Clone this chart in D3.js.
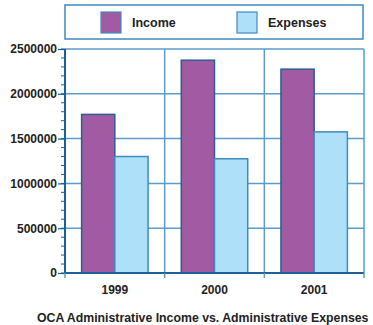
<!DOCTYPE html>
<html>
<head>
<meta charset="utf-8">
<script src="https://cdn.jsdelivr.net/npm/d3@7"></script>
<style>
  body { margin: 0; background: #fff; }
  text { font-family: "Liberation Sans", Arial, sans-serif; font-weight: bold; fill: #222; }
</style>
</head>
<body>
<div id="chart"></div>
<script>
// chart data
const years = ["1999", "2000", "2001"];
const seriesNames = ["Income", "Expenses"];
const income = [1770000, 2375000, 2275000];
const expenses = [1300000, 1275000, 1575000];
const yTicks = [0, 500000, 1000000, 1500000, 2000000, 2500000];
const titleText = "OCA Administrative Income vs. Administrative Expenses";

const colors = { Income: "#a25ba2", Expenses: "#aee1f9" };
const axisColor = "#1d5f97";
const gridColor = "#5a9ccb";

const W = 373, H = 325;
const margin = { top: 49, right: 9, bottom: 52, left: 65 };
const width = W - margin.left - margin.right,
    height = H - margin.top - margin.bottom;

const svg = d3.select("#chart").append("svg")
    .attr("width", W)
    .attr("height", H);

const g = svg.append("g")
    .attr("transform", "translate(" + margin.left + "," + margin.top + ")");

// scales
const x0 = d3.scaleBand().domain(years).range([0, width]).paddingInner(0).paddingOuter(0);
const x1 = d3.scaleBand().domain(seriesNames).range([0, x0.bandwidth()]).paddingInner(0).paddingOuter(0.5);
const y = d3.scaleLinear().domain([0, 2500000]).range([height, 0]);

const rows = years.map((yr, i) => ({ year: yr, Income: income[i], Expenses: expenses[i] }));

// horizontal grid
g.selectAll(".hgrid")
    .data(yTicks.filter(d => d > 0))
    .enter().append("line")
    .attr("class", "hgrid")
    .attr("x1", 0).attr("x2", width)
    .attr("y1", d => y(d)).attr("y2", d => y(d))
    .attr("stroke", gridColor)
    .attr("stroke-width", 1.5);

// vertical grid (category separators + right border)
g.selectAll(".vgrid")
    .data(years.slice(1).concat(["end"]))
    .enter().append("line")
    .attr("class", "vgrid")
    .attr("x1", d => d === "end" ? width : x0(d))
    .attr("x2", d => d === "end" ? width : x0(d))
    .attr("y1", 0).attr("y2", height)
    .attr("stroke", gridColor)
    .attr("stroke-width", 1.5);

// bars
const groups = g.selectAll(".year")
    .data(rows)
    .enter().append("g")
    .attr("transform", d => "translate(" + x0(d.year) + ",0)");

groups.selectAll("rect")
    .data(d => seriesNames.map(k => ({ key: k, value: d[k] })))
    .enter().append("rect")
    .attr("x", d => x1(d.key))
    .attr("y", d => y(d.value))
    .attr("width", x1.bandwidth())
    .attr("height", d => height - y(d.value))
    .attr("fill", d => colors[d.key])
    .attr("stroke", d => d.key === "Income" ? "#2a5f96" : "#3f8bbf")
    .attr("stroke-width", 1.5);

// y axis with minor ticks
const yMinor = d3.range(0, 2500001, 100000);
g.selectAll(".minor")
    .data(yMinor)
    .enter().append("line")
    .attr("x1", -4).attr("x2", 0)
    .attr("y1", d => y(d)).attr("y2", d => y(d))
    .attr("stroke", axisColor)
    .attr("stroke-width", 1);

const yAxis = d3.axisLeft(y).tickValues(yTicks).tickSize(7).tickPadding(1).tickFormat(d3.format("d"));
const yAxisGroup = g.append("g").attr("class", "y-axis").call(yAxis);
yAxisGroup.select(".domain").remove();
yAxisGroup.selectAll("line").attr("stroke", axisColor).attr("stroke-width", 1.2);
yAxisGroup.selectAll("text")
    .style("font-size", "12px")
    .style("font-family", "Liberation Sans, Arial, sans-serif")
    .style("font-weight", "bold")
    .attr("fill", "#222");

g.append("line")
    .attr("x1", 0).attr("x2", 0)
    .attr("y1", 0).attr("y2", height)
    .attr("stroke", axisColor)
    .attr("stroke-width", 2);

// x axis
g.append("line")
    .attr("x1", 0).attr("x2", width)
    .attr("y1", height).attr("y2", height)
    .attr("stroke", axisColor)
    .attr("stroke-width", 2);

g.selectAll(".xtick")
    .data(years.concat(["end"]))
    .enter().append("line")
    .attr("x1", d => d === "end" ? width : x0(d))
    .attr("x2", d => d === "end" ? width : x0(d))
    .attr("y1", height).attr("y2", height + 5)
    .attr("stroke", gridColor)
    .attr("stroke-width", 1.5);

g.selectAll(".xlabel")
    .data(years)
    .enter().append("text")
    .attr("x", d => x0(d) + x0.bandwidth() / 2)
    .attr("y", height + 21)
    .attr("text-anchor", "middle")
    .style("font-size", "12px")
    .text(d => d);

// title
svg.append("text")
    .attr("x", 37)
    .attr("y", 322)
    .style("font-size", "12.3px")
    .text(titleText);

// legend
const legend = svg.append("g");
legend.append("rect")
    .attr("x", 65).attr("y", 5)
    .attr("width", 298).attr("height", 34)
    .attr("fill", "#fff")
    .attr("stroke", "#3f8bbf")
    .attr("stroke-width", 1.5);

const legendX = [101, 237];
const legendItems = legend.selectAll(".item")
    .data(seriesNames)
    .enter().append("g")
    .attr("transform", (d, i) => "translate(" + legendX[i] + ",12)");

legendItems.append("rect")
    .attr("width", 20).attr("height", 21)
    .attr("fill", d => colors[d])
    .attr("stroke", "#3f8bbf")
    .attr("stroke-width", 1.2);

legendItems.append("text")
    .attr("x", 31)
    .attr("y", 15)
    .style("font-size", "12.5px")
    .text(d => d);
</script>
</body>
</html>
